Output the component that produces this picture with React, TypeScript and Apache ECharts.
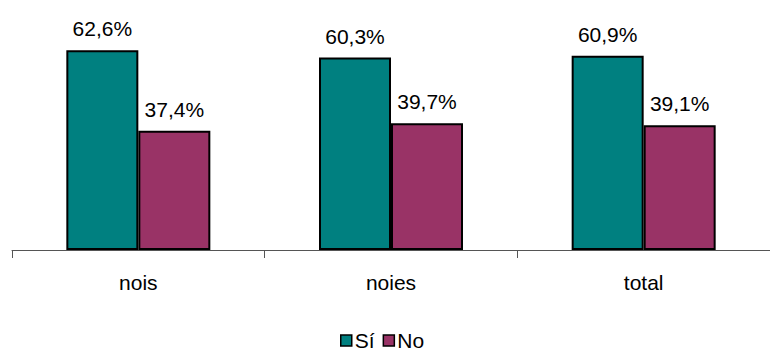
import React, { useEffect, useRef } from "react";
import * as echarts from "echarts";

const categories = ["nois", "noies", "total"];
const siValues = [62.6, 60.3, 60.9];
const noValues = [37.4, 39.7, 39.1];
const seriesNames = ["Sí", "No"];

const FONT = "'Liberation Sans', Arial, sans-serif";

export default function App() {
  const ref = useRef<HTMLDivElement>(null);
  useEffect(() => {
    document.body.style.margin = "0";
    const chart = echarts.init(ref.current!, undefined, { renderer: "svg" });
    const labelFmt = (p: any) => p.value.toFixed(1).replace(".", ",") + "%";
    chart.setOption({
      animation: false,
      textStyle: { fontFamily: FONT },
      grid: { left: 12, right: -4, top: 10, bottom: 102 },
      xAxis: {
        type: "category",
        data: categories,
        axisLine: { lineStyle: { color: "#555", width: 1 } },
        axisTick: { show: true, length: 8, inside: false, lineStyle: { color: "#555" } },
        axisLabel: { color: "#000", fontSize: 21, margin: 22, fontFamily: FONT },
      },
      yAxis: {
        type: "value",
        min: 0,
        max: 75.2,
        show: false,
        splitLine: { show: false },
      },
      legend: {
        data: seriesNames,
        top: 330,
        left: 340,
        padding: 0,
        itemWidth: 11,
        itemHeight: 11,
        itemGap: 8,
        icon: "rect",
        itemStyle: { borderColor: "#000", borderWidth: 1.5 },
        textStyle: { fontSize: 21, lineHeight: 21, color: "#000", fontFamily: FONT, padding: [0, 0, 0, -2] },
      },
      series: [
        {
          name: seriesNames[0],
          type: "bar",
          data: siValues,
          barWidth: 72,
          barGap: "0%",
          itemStyle: { color: "#008080", borderColor: "#000", borderWidth: 2 },
          label: { show: true, position: "top", distance: 11, fontSize: 21, color: "#000", fontFamily: FONT, formatter: labelFmt },
        },
        {
          name: seriesNames[1],
          type: "bar",
          data: noValues,
          barWidth: 72,
          barGap: "0%",
          itemStyle: { color: "#993366", borderColor: "#000", borderWidth: 2 },
          label: { show: true, position: "top", distance: 11, fontSize: 21, color: "#000", fontFamily: FONT, formatter: labelFmt },
        },
      ],
    });
    return () => chart.dispose();
  }, []);
  return <div ref={ref} style={{ width: 770, height: 352 }} />;
}
